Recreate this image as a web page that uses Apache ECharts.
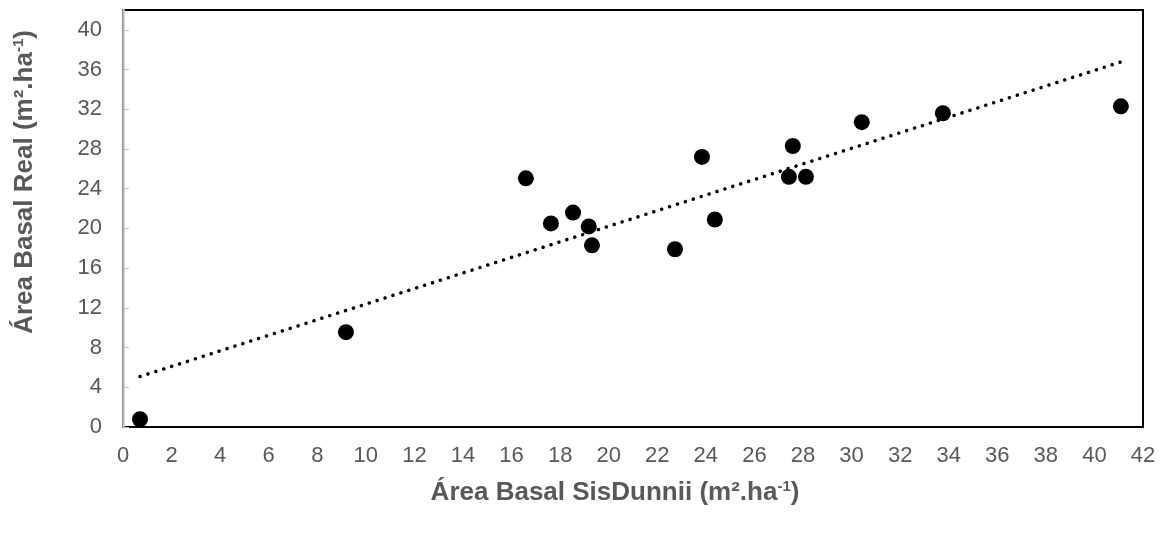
<!DOCTYPE html>
<html>
<head>
<meta charset="utf-8">
<script src="https://cdn.jsdelivr.net/npm/echarts@6/dist/echarts.min.js"></script>
<style>
  html, body { margin: 0; padding: 0; background: #fff; }
  #chart { width: 1165px; height: 534px; }
</style>
</head>
<body>
<div id="chart"></div>
<script>
// Basal area: SisDunnii estimate (x) vs. measured value (y), m²/ha
const sisDunnii = [0.70, 9.18, 16.59, 17.62, 18.53, 19.18, 19.31, 22.73, 23.84, 24.37, 27.42, 27.58, 28.12, 30.42, 33.76, 41.09];
const real      = [0.78, 9.55, 25.05, 20.50, 21.60, 20.20, 18.30, 17.90, 27.20, 20.90, 25.20, 28.30, 25.20, 30.70, 31.60, 32.30];

const xTickMax = 42;
const xTickStep = 2;
const yTickMax = 42;
const yTickStep = 4;

const xTitle = ['Área Basal SisDunnii (m².ha', '-1', ')'];
const yTitle = ['Área Basal Real (m².ha', '-1', ')'];

// Linear least-squares trend line across the observed x range
function linearFit(xs, ys) {
  const n = xs.length;
  const mx = xs.reduce((a, b) => a + b, 0) / n;
  const my = ys.reduce((a, b) => a + b, 0) / n;
  let sxy = 0, sxx = 0;
  for (let i = 0; i < n; i++) {
    sxy += (xs[i] - mx) * (ys[i] - my);
    sxx += (xs[i] - mx) * (xs[i] - mx);
  }
  const slope = sxy / sxx;
  return { slope, intercept: my - slope * mx };
}
const fit = linearFit(sisDunnii, real);
const xMin = Math.min(...sisDunnii);
const xMax = Math.max(...sisDunnii);
const trend = [
  [xMin, fit.intercept + fit.slope * xMin],
  [xMax, fit.intercept + fit.slope * xMax]
];

const points = sisDunnii.map((x, i) => [x, real[i]]);

const labelColor = '#595959';
const font = 'Liberation Sans, Arial, sans-serif';

const titleRich = {
  a: { fontFamily: font, fontSize: 26, fontWeight: 'bold', fill: labelColor, color: labelColor },
  s: { fontFamily: font, fontSize: 15, fontWeight: 'bold', fill: labelColor, color: labelColor, padding: [0, 0, 12, 0] }
};
const richText = parts => `{a|${parts[0]}}{s|${parts[1]}}{a|${parts[2]}}`;

const chart = echarts.init(document.getElementById('chart'), null, { renderer: 'canvas' });
chart.setOption({
  animation: false,
  backgroundColor: '#ffffff',
  grid: {
    left: 123, right: 22, top: 10, bottom: 107,
    show: true, borderColor: '#000000', borderWidth: 2, backgroundColor: 'transparent'
  },
  graphic: [
    {
      type: 'text',
      x: 615, y: 493,
      style: {
        text: richText(xTitle),
        rich: titleRich,
        align: 'center',
        verticalAlign: 'middle'
      }
    },
    {
      type: 'text',
      x: 25, y: 182,
      rotation: Math.PI / 2,
      style: {
        text: richText(yTitle),
        rich: titleRich,
        align: 'center',
        verticalAlign: 'middle'
      }
    }
  ],
  xAxis: {
    type: 'value',
    min: 0, max: xTickMax, interval: xTickStep,
    axisLine: { show: false },
    axisTick: { show: false },
    splitLine: { show: false },
    axisLabel: { color: labelColor, fontSize: 22, fontFamily: font, margin: 18 }
  },
  yAxis: {
    type: 'value',
    min: 0, max: yTickMax, interval: yTickStep,
    axisLine: { show: true, onZero: false, lineStyle: { color: '#bfbfbf', width: 2.5 } },
    axisTick: { show: true, inside: true, length: 6, lineStyle: { color: '#bfbfbf', width: 1 } },
    splitLine: { show: false },
    axisLabel: { color: labelColor, fontSize: 22, fontFamily: font, margin: 21, showMaxLabel: false }
  },
  series: [
    {
      type: 'line',
      data: trend,
      symbol: 'none',
      silent: true,
      z: 2,
      lineStyle: { color: '#000000', width: 3.5, type: [0.1, 8.2], cap: 'round' }
    },
    {
      type: 'scatter',
      data: points,
      symbol: 'circle',
      symbolSize: 16,
      z: 3,
      itemStyle: { color: '#000000', opacity: 1 }
    }
  ]
});
</script>
</body>
</html>
